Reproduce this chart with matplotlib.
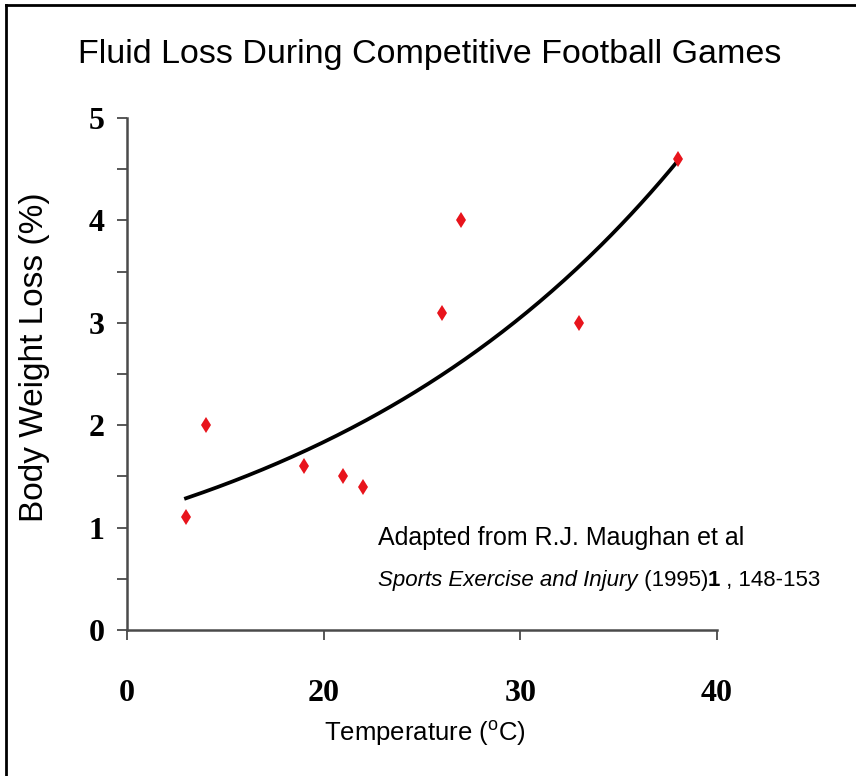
import numpy as np
import matplotlib
matplotlib.use("Agg")
import matplotlib.pyplot as plt
from matplotlib.lines import Line2D

# data
temperature = [13, 14, 19, 21, 22, 26, 27, 33, 38]
weight_loss = [1.1, 2.0, 1.6, 1.5, 1.4, 3.1, 4.0, 3.0, 4.6]
x_ticks = [10, 20, 30, 40]
x_tick_labels = ["0", "20", "30", "40"]
y_ticks = [0, 1, 2, 3, 4, 5]

sans = ["Liberation Sans", "DejaVu Sans"]
plt.rcParams["mathtext.fontset"] = "custom"
plt.rcParams["mathtext.rm"] = sans[0]

# exponential trendline (least squares on log y)
b, log_a = np.polyfit(temperature, np.log(weight_loss), 1)
xs = np.linspace(min(temperature), max(temperature), 200)
ys = np.exp(log_a + b * xs)

fig = plt.figure(figsize=(8.56, 7.76), dpi=100)
ax = fig.add_axes([127 / 856, 146 / 776, 590 / 856, 512 / 776])

ax.plot(xs, ys, color="black", linewidth=2.7, zorder=2)
ax.plot(temperature, weight_loss, linestyle="none", marker="d", markersize=8.5,
        color="#e8141c", markeredgewidth=0, zorder=3)

ax.set_xlim(10, 40)
ax.set_ylim(0, 5)
for side in ["top", "right"]:
    ax.spines[side].set_visible(False)
for side in ["left", "bottom"]:
    ax.spines[side].set_color("#4a4a4a")
    ax.spines[side].set_linewidth(1.8)

ax.set_xticks(x_ticks)
ax.set_xticklabels(x_tick_labels)
ax.set_yticks(y_ticks)
ax.set_yticks(np.arange(0.5, 5, 1), minor=True)
ax.tick_params(axis="both", which="both", direction="out", length=7,
               width=1.3, color="#4a4a4a")
ax.tick_params(axis="x", pad=28)
ax.tick_params(axis="y", pad=9)
for lab in ax.get_xticklabels() + ax.get_yticklabels():
    lab.set_family("Liberation Serif")
    lab.set_fontweight("bold")
    lab.set_fontsize(23)

# titles and axis labels
fig.text(0.502, 1 - 63 / 776, "Fluid Loss During Competitive Football Games",
         ha="center", va="baseline", fontsize=24.5, family=sans)
fig.text(425 / 856, 1 - 733 / 776, r"Temperature ($^{\mathrm{o}}$C)",
         ha="center", va="center", fontsize=18.5, family=sans)
fig.text(35 / 856, 1 - 357 / 776, "Body Weight Loss (%)", rotation=90,
         ha="center", va="center", fontsize=24, family=sans)

# source note with mixed styles
fig.text(378 / 856, 1 - 545 / 776, "Adapted from R.J. Maughan et al",
         ha="left", va="baseline", fontsize=18, family=sans)
t2 = fig.text(378 / 856, 1 - 586 / 776, "Sports Exercise and Injury",
              ha="left", va="baseline", fontsize=16, family=sans, style="italic")
t3 = ax.annotate(" (1995)", xy=(1, 0), xycoords=t2, va="bottom", fontsize=16,
                 family=sans, annotation_clip=False)
t4 = ax.annotate("1", xy=(1, 0), xycoords=t3, va="bottom", fontsize=16,
                 family=sans, fontweight="bold", annotation_clip=False)
ax.annotate(" , 148-153", xy=(1, 0), xycoords=t4, va="bottom", fontsize=16,
            family=sans, annotation_clip=False)

# outer frame (top and left edges)
fig.add_artist(Line2D([6 / 856, 1], [1 - 5 / 776, 1 - 5 / 776],
                      transform=fig.transFigure, color="black", linewidth=2))
fig.add_artist(Line2D([6 / 856, 6 / 856], [0, 1 - 5 / 776],
                      transform=fig.transFigure, color="black", linewidth=2))

fig.savefig("out.png", dpi=100)
